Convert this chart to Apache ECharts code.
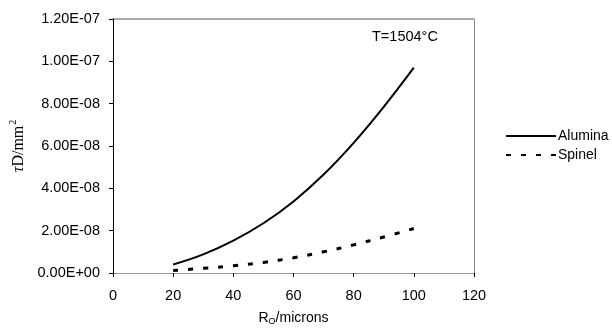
<!DOCTYPE html>
<html>
<head>
<meta charset="utf-8">
<script src="https://cdn.jsdelivr.net/npm/echarts@6/dist/echarts.min.js"></script>
<style>
  html, body { margin: 0; padding: 0; background: #fff; }
  #chart { width: 612px; height: 330px; }
</style>
</head>
<body>
<div id="chart"></div>
<script>
// radius R0 in microns
const radius = [20, 30, 40, 50, 60, 70, 80, 90, 100];
// tau*D in mm^2
const alumina = [4.0e-9, 8.8e-9, 15.3e-9, 23.5e-9, 33.8e-9, 46.5e-9, 61.5e-9, 78.5e-9, 97.0e-9];
const spinel = [1.2e-9, 2.2e-9, 3.4e-9, 5.0e-9, 7.2e-9, 10.0e-9, 13.3e-9, 17.0e-9, 21.0e-9];
const seriesNames = ['Alumina', 'Spinel'];

let chart = echarts.init(document.getElementById('chart'));

const txt = { fontFamily: 'Liberation Sans', fontSize: 14.5, color: '#000' };

function pairs(ys) {
  return radius.map((x, i) => [x, ys[i]]);
}

let option = {
  animation: false,
  title: {
    text: 'T=1504°C',
    left: 372, top: 29, padding: 0,
    textStyle: { fontFamily: 'Liberation Sans', fontSize: 14.5, fontWeight: 'normal', color: '#000' }
  },
  legend: {
    orient: 'vertical',
    left: 505, top: 129, padding: 0,
    itemWidth: 50, itemHeight: 14, itemGap: 5,
    itemStyle: { opacity: 0 },
    textStyle: { fontFamily: 'Liberation Sans', fontSize: 14, color: '#000', padding: [0, 0, 0, -3] },
    data: seriesNames
  },
  grid: { left: 113, right: 138, top: 19, bottom: 57, outerBoundsMode: 'none', containLabel: false },
  xAxis: {
    type: 'value',
    min: 0, max: 120, interval: 20,
    name: 'R{sub|O}/microns',
    nameLocation: 'middle',
    nameGap: 37,
    nameTextStyle: Object.assign({}, txt, {
      fontSize: 14,
      rich: { sub: { fontFamily: 'Liberation Sans', fontSize: 9, color: '#000', verticalAlign: 'bottom', padding: [7, 0, 0, 0] } }
    }),
    axisLine: { lineStyle: { color: '#999', width: 1 } },
    axisTick: { show: true, length: 4, lineStyle: { color: '#000' } },
    axisLabel: Object.assign({}, txt, { margin: 15 }),
    splitLine: { show: false }
  },
  yAxis: [{
    type: 'value',
    min: 0, max: 1.2e-7, interval: 2e-8,
    name: '{it|τ}D/mm{sup|2}',
    nameLocation: 'middle',
    nameGap: 84,
    nameRotate: 90,
    nameTextStyle: {
      fontFamily: 'Liberation Serif', fontSize: 16, color: '#000',
      rich: {
        it: { fontFamily: 'Liberation Serif', fontStyle: 'italic', fontSize: 16, color: '#000' },
        sup: { fontFamily: 'Liberation Serif', fontSize: 10, color: '#000', verticalAlign: 'top', padding: [0, 0, 10, 1] }
      }
    },
    axisLine: { show: true, lineStyle: { color: '#000', width: 1 } },
    axisTick: { show: true, inside: false, length: 4, lineStyle: { color: '#000' } },
    axisLabel: Object.assign({}, txt, {
      margin: 13,
      formatter: v => {
        if (v === 0) return '0.00E+00';
        let e = Math.floor(Math.log10(v) + 1e-9);
        let m = v / Math.pow(10, e);
        return m.toFixed(2) + 'E-' + String(-e).padStart(2, '0');
      }
    }),
    splitLine: { show: false }
  }, {
    type: 'value',
    position: 'right',
    min: 0, max: 1.2e-7,
    axisLine: { show: true, lineStyle: { color: '#888', width: 1 } },
    axisTick: { show: false },
    axisLabel: { show: false },
    splitLine: { show: false }
  }],
  graphic: [{
    type: 'line',
    shape: { x1: 113, y1: 19, x2: 474, y2: 19 },
    style: { stroke: '#555', lineWidth: 1 }
  }],
  series: [{
    name: seriesNames[0],
    type: 'line',
    data: pairs(alumina),
    smooth: 0.4,
    symbol: 'none',
    lineStyle: { color: '#000', width: 2, type: 'solid' },
    itemStyle: { color: '#000' }
  }, {
    name: seriesNames[1],
    type: 'line',
    data: pairs(spinel),
    smooth: 0.4,
    symbol: 'none',
    lineStyle: { color: '#000', width: 3, type: [5, 10] },
    itemStyle: { color: '#000' }
  }]
};

chart.setOption(option);
</script>
</body>
</html>
